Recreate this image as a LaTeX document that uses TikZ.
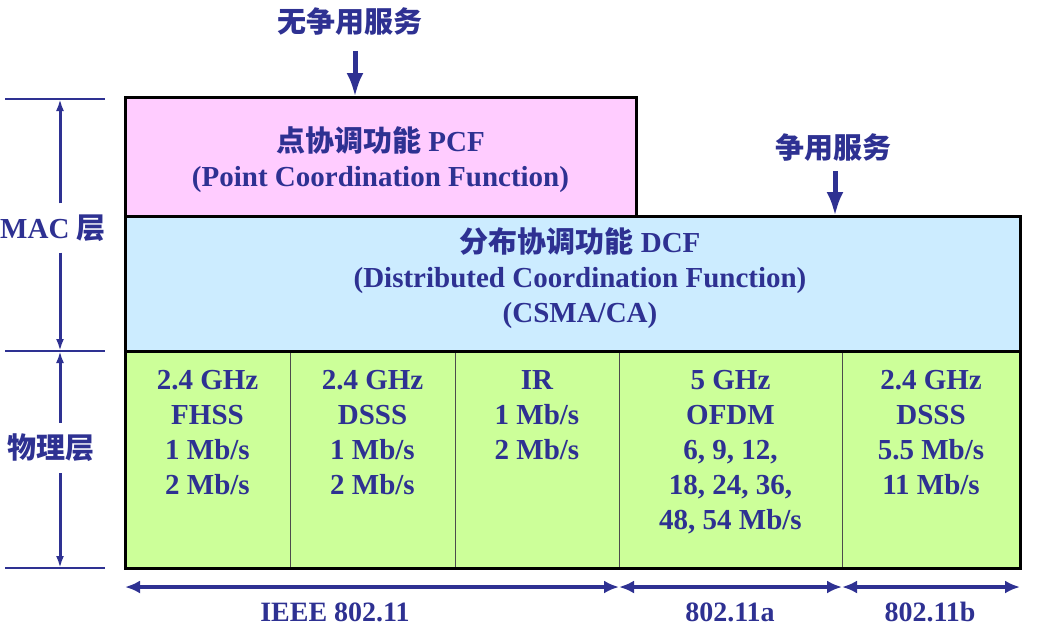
\documentclass[tikz,border=0pt]{standalone}
\usepackage{fontspec}
\setmainfont{Liberation Serif}
\newfontfamily\cjk{Noto Sans CJK SC}
\usetikzlibrary{arrows.meta}
\definecolor{navy}{RGB}{46,49,146}
\definecolor{pcfpink}{RGB}{255,204,255}
\definecolor{dcfblue}{RGB}{204,236,255}
\definecolor{phygreen}{RGB}{204,255,153}

\begin{document}
\begin{tikzpicture}[x=1pt, y=-1pt,
  every node/.style={font=\fontsize{29}{35}\selectfont\bfseries, text=navy},
  layerbox/.style={draw=black, line width=3pt, inner sep=0pt},
  phycell/.style={draw=black!70, line width=1pt, fill=phygreen, minimum height=217, inner sep=0pt},
  boxtext/.style={align=center, inner sep=0pt},
  phytext/.style={align=center, anchor=north, inner sep=0pt},
  svcarrow/.style={line width=5pt, navy, -{Latex[length=24pt,width=17pt]}},
  dimarrow/.style={line width=3pt, navy, -{Latex[length=12pt,width=8pt]}},
  bararrow/.style={line width=3.5pt, navy, {Latex[length=15pt,width=13pt]}-{Latex[length=15pt,width=13pt]}},
  refline/.style={line width=1.8pt, navy}]
  \useasboundingbox (0,0) rectangle (1059,642);
  % Capa MAC: PCF y DCF
  \node[layerbox, fill=pcfpink, minimum width=511, minimum height=119] (pcf) at (380.5,156.5) {};
  \node[boxtext] (pcftext) at (380.5,160)
    {{\cjk 点协调功能} PCF\\(Point Coordination Function)};
  \node[layerbox, fill=dcfblue, minimum width=895, minimum height=135] (dcf) at (572.5,283.5) {};
  \node[boxtext] (dcftext) at (580,278)
    {{\cjk 分布协调功能} DCF\\(Distributed Coordination Function)\\(CSMA/CA)};
  % Capa fisica: columnas
  \foreach \i/\xa/\xb/\txt in {1/125/290/{2.4 GHz\\FHSS\\1 Mb/s\\2 Mb/s},
                               2/290/455/{2.4 GHz\\DSSS\\1 Mb/s\\2 Mb/s},
                               3/455/619/{IR\\1 Mb/s\\2 Mb/s},
                               4/619/842/{5 GHz\\OFDM\\6, 9, 12,\\18, 24, 36,\\48, 54 Mb/s},
                               5/842/1020/{2.4 GHz\\DSSS\\5.5 Mb/s\\11 Mb/s}} {
    \node[phycell, minimum width=\xb-\xa] (c\i) at ({(\xa+\xb)/2}, 459.5) {};
    \node[phytext] (t\i) at ({(\xa+\xb)/2}, 370) {\txt};
  }
  \node[layerbox, minimum width=895, minimum height=217] (phy) at (572.5,459.5) {};
  % Servicios
  \node (nocont) at (350,22) {\cjk 无争用服务};
  \coordinate (s1) at (355,51);
  \coordinate (pcftop) at (355,97);
  \draw[svcarrow] (s1) -- (pcftop);
  \node (cont) at (833,148) {\cjk 争用服务};
  \coordinate (s2) at (835,171);
  \coordinate (dcftop) at (835,216);
  \draw[svcarrow] (s2) -- (dcftop);
  % Cotas a la izquierda
  \coordinate (l1) at (60,99);
  \coordinate (l2) at (60,351);
  \coordinate (l3) at (60,568);
  \foreach \c in {l1,l2,l3}
    \draw[refline] ([xshift=-55]\c) -- ([xshift=45]\c);
  \node[inner sep=11pt] (mac) at (53,228) {MAC {\cjk 层}};
  \node[inner sep=11pt] (wl) at (51,448) {\cjk 物理层};
  \draw[dimarrow] (mac.north -| l1) -- (l1);
  \draw[dimarrow] (mac.south -| l2) -- (l2);
  \draw[dimarrow] (wl.north -| l2) -- (l2);
  \draw[dimarrow] (wl.south -| l3) -- (l3);
  % Estandares abajo
  \coordinate (b1) at (125,587);
  \coordinate (b2) at (619,587);
  \coordinate (b3) at (842,587);
  \coordinate (b4) at (1020,587);
  \draw[bararrow] (b1) -- (b2);
  \draw[bararrow] (b2) -- (b3);
  \draw[bararrow] (b3) -- (b4);
  \node[font=\fontsize{28}{35}\selectfont\bfseries] (std) at (335,612) {IEEE 802.11};
  \node[font=\fontsize{28}{35}\selectfont\bfseries] (stda) at (730,612) {802.11a};
  \node[font=\fontsize{28}{35}\selectfont\bfseries] (stdb) at (930,612) {802.11b};
\end{tikzpicture}
\end{document}
